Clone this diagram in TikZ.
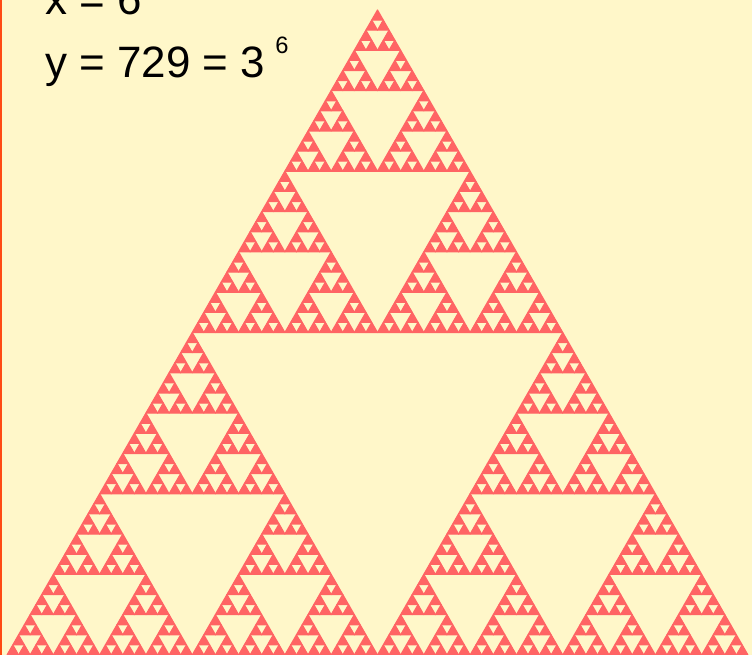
\documentclass[tikz,border=0pt]{standalone}
\usepackage{fontspec}
\setmainfont{Liberation Sans}
\definecolor{paper}{HTML}{FFF7C9}
\definecolor{sierred}{HTML}{FF6464}
\definecolor{rim}{HTML}{FF4A12}

% unit triangle (0,0)-(1,0)-(.5,1), split recursively
\newcommand\sierpinski[1]{%
  \ifnum#1=0
    \filldraw[cell] (0,0) -- (1,0) -- (.5,1) -- cycle;
  \else
    \begin{scope}[scale=.5]\expandafter\sierpinski\expandafter{\the\numexpr#1-1\relax}\end{scope}
    \begin{scope}[shift={(.5,0)},scale=.5]\expandafter\sierpinski\expandafter{\the\numexpr#1-1\relax}\end{scope}
    \begin{scope}[shift={(.25,.5)},scale=.5]\expandafter\sierpinski\expandafter{\the\numexpr#1-1\relax}\end{scope}
  \fi}

\begin{document}
\begin{tikzpicture}[x=0.02cm,y=0.02cm,
  cell/.style={fill=sierred,draw=sierred,line width=0.65pt,line join=round},
  lbl/.style={anchor=base west,inner sep=0pt,font=\fontsize{25}{30}\selectfont},
  sup/.style={anchor=base west,inner sep=0pt,font=\fontsize{13.5}{16}\selectfont}]
\useasboundingbox (0,0) rectangle (752,655);
\clip (0,0) rectangle (752,655);
\fill[paper] (0,0) rectangle (752,655);
\fill[rim] (0,0) rectangle (2,655);
\begin{scope}[shift={(7,0)},xscale=741,yscale=645]
  \sierpinski{6}
\end{scope}
\node[lbl] (xval) at (45,640) {x = 6};
\node[lbl] (yval) at (45,577) {y = 729 = 3};
\node[sup] (yexp) at (275,601) {6};
\end{tikzpicture}
\end{document}
